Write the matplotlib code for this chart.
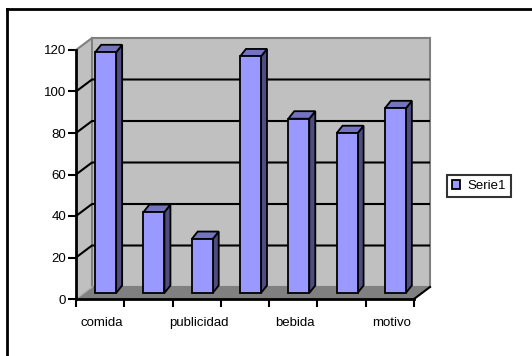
import numpy as np
import matplotlib
matplotlib.use("Agg")
import matplotlib.pyplot as plt
from matplotlib.patches import Polygon
from matplotlib.lines import Line2D

# ---- data ----
categories = ["comida", "", "publicidad", "", "bebida", "", "motivo"]
values = [116, 39, 26, 114, 84, 77, 89]
series_name = "Serie1"
y_ticks = [0, 20, 40, 60, 80, 100, 120]

# ---- styles ----
W, H, DPI = 532, 356, 100
plt.rcParams['font.family'] = ['Liberation Sans', 'DejaVu Sans']
FS = 9.5
BAR_FRONT = '#9999FF'
BAR_SIDE = '#4D4D80'
BAR_TOP = '#7373BF'
WALL = '#C0C0C0'
FLOOR = '#808080'
WALL_EDGE = '#808080'

fig = plt.figure(figsize=(W / DPI, H / DPI), dpi=DPI)
fig.patch.set_facecolor('white')

# front plane of plot in pixels
x0, x1, y0, y1 = 76, 414, 299, 50
ax = fig.add_axes([x0 / W, (H - y0) / H, (x1 - x0) / W, (y0 - y1) / H])
ax.set_facecolor('none')
n = len(categories)
ax.set_xlim(0, n)
ax.set_ylim(0, 120)

cat_px = (x1 - x0) / n
val_px = (y0 - y1) / 120.0
# 3D depth offsets (data units)
wdx, wdy = 16 / cat_px, 12 / val_px
bw = 21 / cat_px
box = 5.5 / cat_px
boy = 6 / val_px
bddx, bddy = 6 / cat_px, 7.5 / val_px

ymax = 120
# walls
left_wall = Polygon([(0, 0), (wdx, wdy), (wdx, ymax + wdy), (0, ymax)],
                    closed=True, facecolor=WALL, edgecolor='none', zorder=1, clip_on=False)
back_wall = Polygon([(wdx, wdy), (n + wdx, wdy), (n + wdx, ymax + wdy), (wdx, ymax + wdy)],
                    closed=True, facecolor=WALL, edgecolor=WALL_EDGE, linewidth=1.5, zorder=1, clip_on=False)
floor = Polygon([(0, 0), (n, 0), (n + wdx, wdy), (wdx, wdy)],
                closed=True, facecolor=FLOOR, edgecolor='none', zorder=1.5, clip_on=False)
for p in (left_wall, back_wall, floor):
    ax.add_patch(p)

# gridlines
for v in y_ticks[1:-1]:
    ax.plot([0, wdx, n + wdx], [v, v + wdy, v + wdy], color='black', lw=1.5, zorder=2,
            clip_on=False, solid_capstyle='butt')
ax.plot([0, wdx], [ymax, ymax + wdy], color=WALL_EDGE, lw=1.5, zorder=2, clip_on=False)
ax.plot([0, wdx], [0, wdy], color='#B0B0B0', lw=1, zorder=2, clip_on=False)
ax.plot([n, n + wdx], [0, wdy], color='black', lw=1.5, zorder=3, clip_on=False)

# bars
xc = np.arange(n) + 0.5 + box
bars = ax.bar(xc, values, width=bw, bottom=boy, color=BAR_FRONT, edgecolor='black',
              linewidth=1.3, zorder=5, label=series_name, clip_on=False)
for xi, v in zip(xc, values):
    xl, xr = xi - bw / 2, xi + bw / 2
    top = boy + v
    side = Polygon([(xr, boy), (xr + bddx, boy + bddy), (xr + bddx, top + bddy), (xr, top)],
                   closed=True, facecolor=BAR_SIDE, edgecolor='black', linewidth=1.3,
                   zorder=4.5, clip_on=False)
    cap = Polygon([(xl, top), (xr, top), (xr + bddx, top + bddy), (xl + bddx, top + bddy)],
                  closed=True, facecolor=BAR_TOP, edgecolor='black', linewidth=1.3,
                  zorder=4.5, clip_on=False)
    ax.add_patch(side)
    ax.add_patch(cap)

# axes
for s in ('top', 'right'):
    ax.spines[s].set_visible(False)
for s in ('left', 'bottom'):
    ax.spines[s].set_color('black')
    ax.spines[s].set_linewidth(2)
    ax.spines[s].set_zorder(6)

ax.set_yticks(y_ticks)
ax.set_yticklabels([str(t) for t in y_ticks], fontsize=FS)
ax.tick_params(axis='y', direction='out', length=6, width=1.5, pad=1, colors='black')

ax.set_xticks(np.arange(n + 1))
ax.set_xticklabels([])
ax.tick_params(axis='x', which='major', direction='out', length=6, width=1.5)
ax.set_xticks(np.arange(n) + 0.54, minor=True)
ax.set_xticklabels(categories, minor=True, fontsize=FS)
ax.tick_params(axis='x', which='minor', length=0, pad=13)

# legend
leg = fig.legend(handles=[bars], labels=[series_name], loc='center left',
                 bbox_to_anchor=(447 / W, 1 - 186 / H), fontsize=FS, frameon=True,
                 fancybox=False, edgecolor='black', handlelength=0.6, handleheight=0.7,
                 handletextpad=0.6, borderpad=0.35, borderaxespad=0)
leg.get_frame().set_linewidth(1.5)

# outer chart border (left and top visible)
fig.add_artist(Line2D([7 / W, 7 / W], [0, 1 - 9 / H], transform=fig.transFigure,
                      color='black', lw=2))
fig.add_artist(Line2D([7 / W, 1], [1 - 9 / H, 1 - 9 / H], transform=fig.transFigure,
                      color='black', lw=2))

fig.savefig('out.png', dpi=DPI)
